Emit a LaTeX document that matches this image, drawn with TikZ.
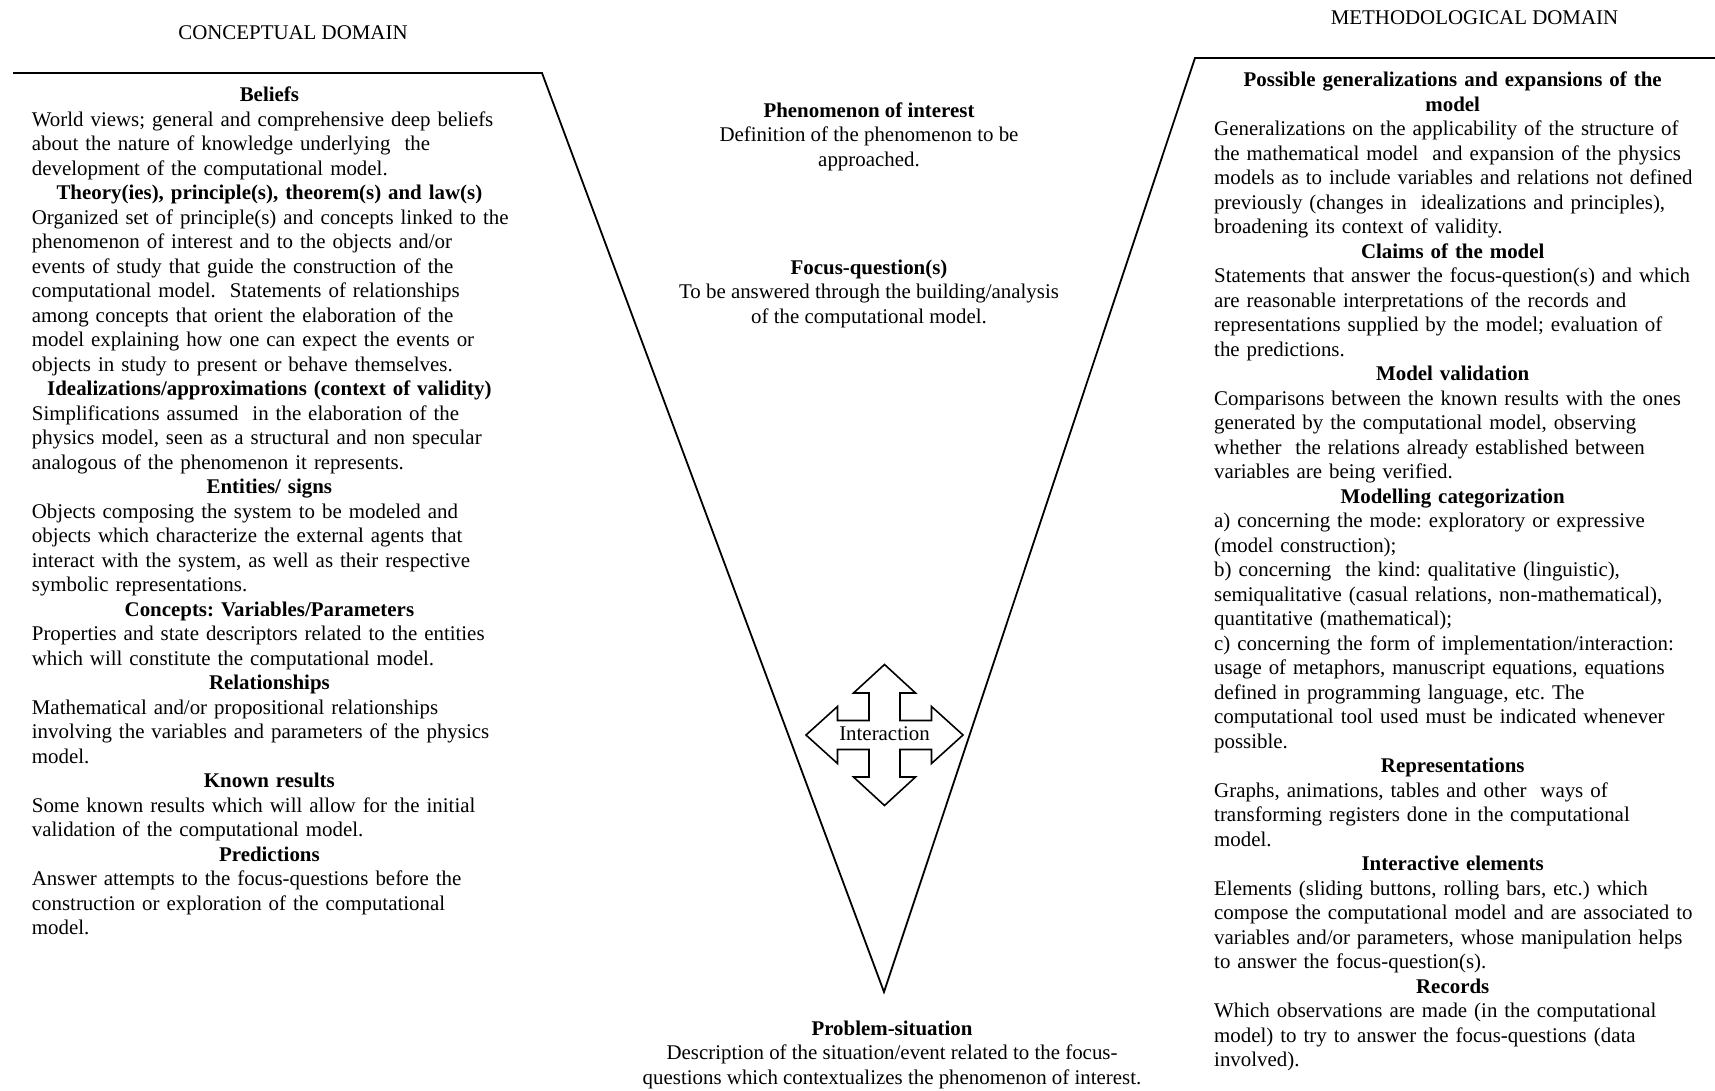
\documentclass[tikz,border=0pt]{standalone}
\usepackage{fontspec}
\setmainfont{Liberation Serif}
\setlength\parindent{0pt}
\frenchspacing
\newcommand\hdL[1]{\makebox[475pt][c]{\bfseries #1}}
\newcommand\hdR[1]{\makebox[477pt][c]{\bfseries #1}}
\tikzset{
  coltext/.style={anchor=base west, inner sep=0pt, text width=640pt, align=left,
    font=\fontsize{20.9}{24.5}\selectfont\frenchspacing},
  ctext/.style={anchor=base, inner sep=0pt, align=center,
    font=\fontsize{20.9}{24.5}\selectfont\frenchspacing},
  vline/.style={line width=1.8pt, line join=miter},
  arrowshape/.style={line width=1.6pt, line join=miter, fill=white},
}
\begin{document}
\begin{tikzpicture}[x=1pt,y=-1pt]
\useasboundingbox[fill=white] (0,0) rectangle (1715,1091);

% V outline
\coordinate (lstart) at (13,73);
\coordinate (lcorner) at (542,73);
\coordinate (apex) at (884,992);
\coordinate (rcorner) at (1195,58);
\coordinate (rend) at (1716,58);
\draw[vline] (lstart) -- (lcorner) -- (apex) -- (rcorner) -- (rend);

% titles
\node[ctext] (concT) at (293,40) {CONCEPTUAL DOMAIN};
\node[ctext] (methT) at (1474.5,25) {METHODOLOGICAL DOMAIN};

% left column
\node[coltext] (left) at (31.7,102) {%
\hdL{Beliefs}\\
World views; general and comprehensive deep beliefs\\
about the nature of knowledge underlying\ \ the\\
development of the computational model.\\
\hdL{Theory(ies), principle(s), theorem(s) and law(s)}\\
Organized set of principle(s) and concepts linked to the\\
phenomenon of interest and to the objects and/or\\
events of study that guide the construction of the\\
computational model.\ \ Statements of relationships\\
among concepts that orient the elaboration of the\\
model explaining how one can expect the events or\\
objects in study to present or behave themselves.\\
\hdL{Idealizations/approximations (context of validity)}\\
Simplifications assumed\ \ in the elaboration of the\\
physics model, seen as a structural and non specular\\
analogous of the phenomenon it represents.\\
\hdL{Entities/ signs}\\
Objects composing the system to be modeled and\\
objects which characterize the external agents that\\
interact with the system, as well as their respective\\
symbolic representations.\\
\hdL{Concepts: Variables/Parameters}\\
Properties and state descriptors related to the entities\\
which will constitute the computational model.\\
\hdL{Relationships}\\
Mathematical and/or propositional relationships\\
involving the variables and parameters of the physics\\
model.\\
\hdL{Known results}\\
Some known results which will allow for the initial\\
validation of the computational model.\\
\hdL{Predictions}\\
Answer attempts to the focus-questions before the\\
construction or exploration of the computational\\
model.};

% right column
\node[coltext] (right) at (1214,87) {%
\hdR{Possible generalizations and expansions of the}\\
\hdR{model}\\
Generalizations on the applicability of the structure of\\
the mathematical model\ \ and expansion of the physics\\
models as to include variables and relations not defined\\
previously (changes in\ \ idealizations and principles),\\
broadening its context of validity.\\
\hdR{Claims of the model}\\
Statements that answer the focus-question(s) and which\\
are reasonable interpretations of the records and\\
representations supplied by the model; evaluation of\\
the predictions.\\
\hdR{Model validation}\\
Comparisons between the known results with the ones\\
generated by the computational model, observing\\
whether\ \ the relations already established between\\
variables are being verified.\\
\hdR{Modelling categorization}\\
a) concerning the mode: exploratory or expressive\\
(model construction);\\
b) concerning\ \ the kind: qualitative (linguistic),\\
semiqualitative (casual relations, non-mathematical),\\
quantitative (mathematical);\\
c) concerning the form of implementation/interaction:\\
usage of metaphors, manuscript equations, equations\\
defined in programming language, etc. The\\
computational tool used must be indicated whenever\\
possible.\\
\hdR{Representations}\\
Graphs, animations, tables and other\ \ ways of\\
transforming registers done in the computational\\
model.\\
\hdR{Interactive elements}\\
Elements (sliding buttons, rolling bars, etc.) which\\
compose the computational model and are associated to\\
variables and/or parameters, whose manipulation helps\\
to answer the focus-question(s).\\
\hdR{Records}\\
Which observations are made (in the computational\\
model) to try to answer the focus-questions (data\\
involved).};

% centre texts (anchor = baseline of last line)
\node[ctext] (phen) at (869,166.5) {\textbf{Phenomenon of interest}\\
Definition of the phenomenon to be\\ approached.};
\node[ctext] (focus) at (869,323) {\textbf{Focus-question(s)}\\
To be answered through the building/analysis\\ of the computational model.};
\node[ctext] (prob) at (892,1084) {\textbf{Problem-situation}\\
Description of the situation/event related to the focus-\\
questions which contextualizes the phenomenon of interest.};

% interaction arrow
\coordinate (ic) at (884.5,735);
\draw[arrowshape, shift={(ic)}]
 (0,-70.5) -- (31,-42) -- (15.5,-42) -- (15.5,-14.5) -- (47,-14.5) -- (47,-28.5)
 -- (78.5,0) -- (47,28.5) -- (47,14.5) -- (15.5,14.5) -- (15.5,42) -- (31,42)
 -- (0,70.5) -- (-31,42) -- (-15.5,42) -- (-15.5,14.5) -- (-47,14.5) -- (-47,28.5)
 -- (-78.5,0) -- (-47,-28.5) -- (-47,-14.5) -- (-15.5,-14.5) -- (-15.5,-42) -- (-31,-42)
 -- cycle;
\node[ctext] (inter) at (884.5,740.5) {Interaction};
\end{tikzpicture}
\end{document}
